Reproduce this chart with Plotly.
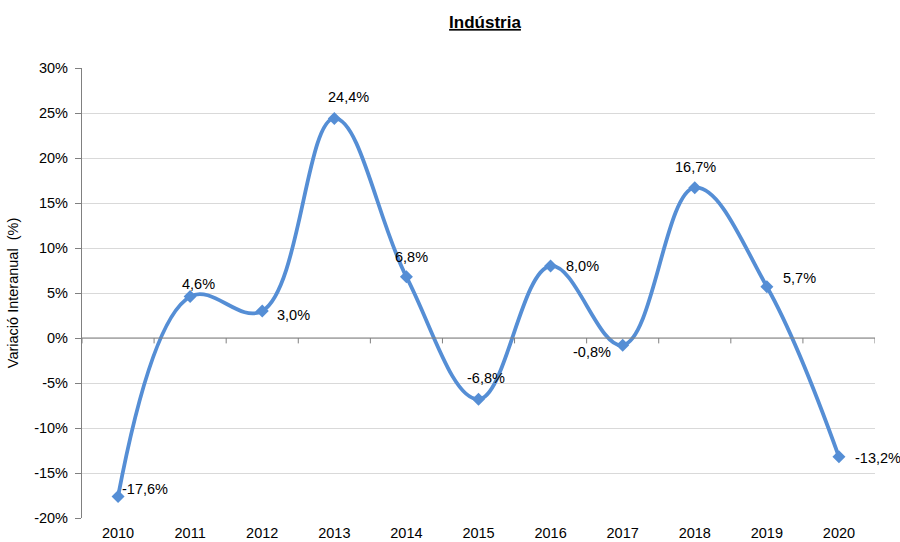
import plotly.graph_objects as go

years = ["2010", "2011", "2012", "2013", "2014", "2015", "2016", "2017", "2018", "2019", "2020"]
values = [-17.6, 4.6, 3.0, 24.4, 6.8, -6.8, 8.0, -0.8, 16.7, 5.7, -13.2]
labels = ["-17,6%", "4,6%", "3,0%", "24,4%", "6,8%", "-6,8%", "8,0%", "-0,8%", "16,7%", "5,7%", "-13,2%"]
y_ticks = [-20, -15, -10, -5, 0, 5, 10, 15, 20, 25, 30]
y_ticklabels = ["-20%", "-15%", "-10%", "-5%", "0%", "5%", "10%", "15%", "20%", "25%", "30%"]

# label pixel offsets (style)
offsets = [(27, 7), (8, 13), (31, -4), (14, 21), (5, 20), (7, 21), (32, 0), (-31, -7), (1, 21), (33, 9), (39, -1)]

FONT = "Liberation Sans, Arial, sans-serif"
xs = list(range(len(years)))

fig = go.Figure()
fig.add_trace(go.Scatter(
    x=xs, y=values, mode="lines+markers",
    line=dict(color="#558ED5", width=3.8, shape="spline", smoothing=1.1),
    marker=dict(symbol="diamond", size=10, color="#558ED5"),
    hoverinfo="skip", showlegend=False,
))

annotations = []
for x, v, t, (dx, dy) in zip(xs, values, labels, offsets):
    annotations.append(dict(x=x, y=v, xref="x", yref="y", text=t, showarrow=False,
                            xshift=dx, yshift=dy, font=dict(family=FONT, size=14.5, color="black")))

# zero-line tick marks at category boundaries
shapes = []
for k in range(len(years) + 1):
    shapes.append(dict(type="line", xref="x", yref="y", x0=k - 0.5, x1=k - 0.5, y0=0, y1=-0.6,
                       line=dict(color="#808080", width=1)))
shapes.append(dict(type="line", xref="x", yref="y", x0=-0.5, x1=len(years) - 0.5, y0=0, y1=0,
                   line=dict(color="#808080", width=1.2)))

fig.update_layout(
    width=900, height=542,
    margin=dict(l=82, r=25, t=68, b=24),
    paper_bgcolor="white", plot_bgcolor="white",
    font=dict(family=FONT, size=14.5, color="black"),
    title=dict(text="<b><u>Indústria</u></b>", x=485 / 900, xref="container", xanchor="center",
               y=1 - 22 / 542, yref="container", yanchor="middle",
               font=dict(family=FONT, size=17, color="black")),
    xaxis=dict(range=[-0.5, len(years) - 0.5], tickmode="array", tickvals=xs, ticktext=years,
               showgrid=False, zeroline=False, showline=False, ticks="outside", ticklen=2,
               tickcolor="rgba(0,0,0,0)", tickfont=dict(family=FONT, size=14.5, color="black"),
               automargin=False),
    yaxis=dict(range=[-20, 30], tickmode="array", tickvals=y_ticks, ticktext=y_ticklabels,
               showgrid=True, gridcolor="#D9D9D9", gridwidth=1, zeroline=False,
               showline=True, linecolor="#808080", linewidth=1.2, ticks="outside", ticklen=6,
               tickcolor="#808080", tickfont=dict(family=FONT, size=14.5, color="black"),
               ticklabelstandoff=4, automargin=False,
               title=dict(text="Variació Interanual  (%)", standoff=12,
                          font=dict(family=FONT, size=14.5, color="black"))),
    annotations=annotations,
    shapes=shapes,
)

fig.write_html("out.html", config={"displayModeBar": False},
               post_script="document.body.style.margin='0';document.body.style.overflow='hidden';")
